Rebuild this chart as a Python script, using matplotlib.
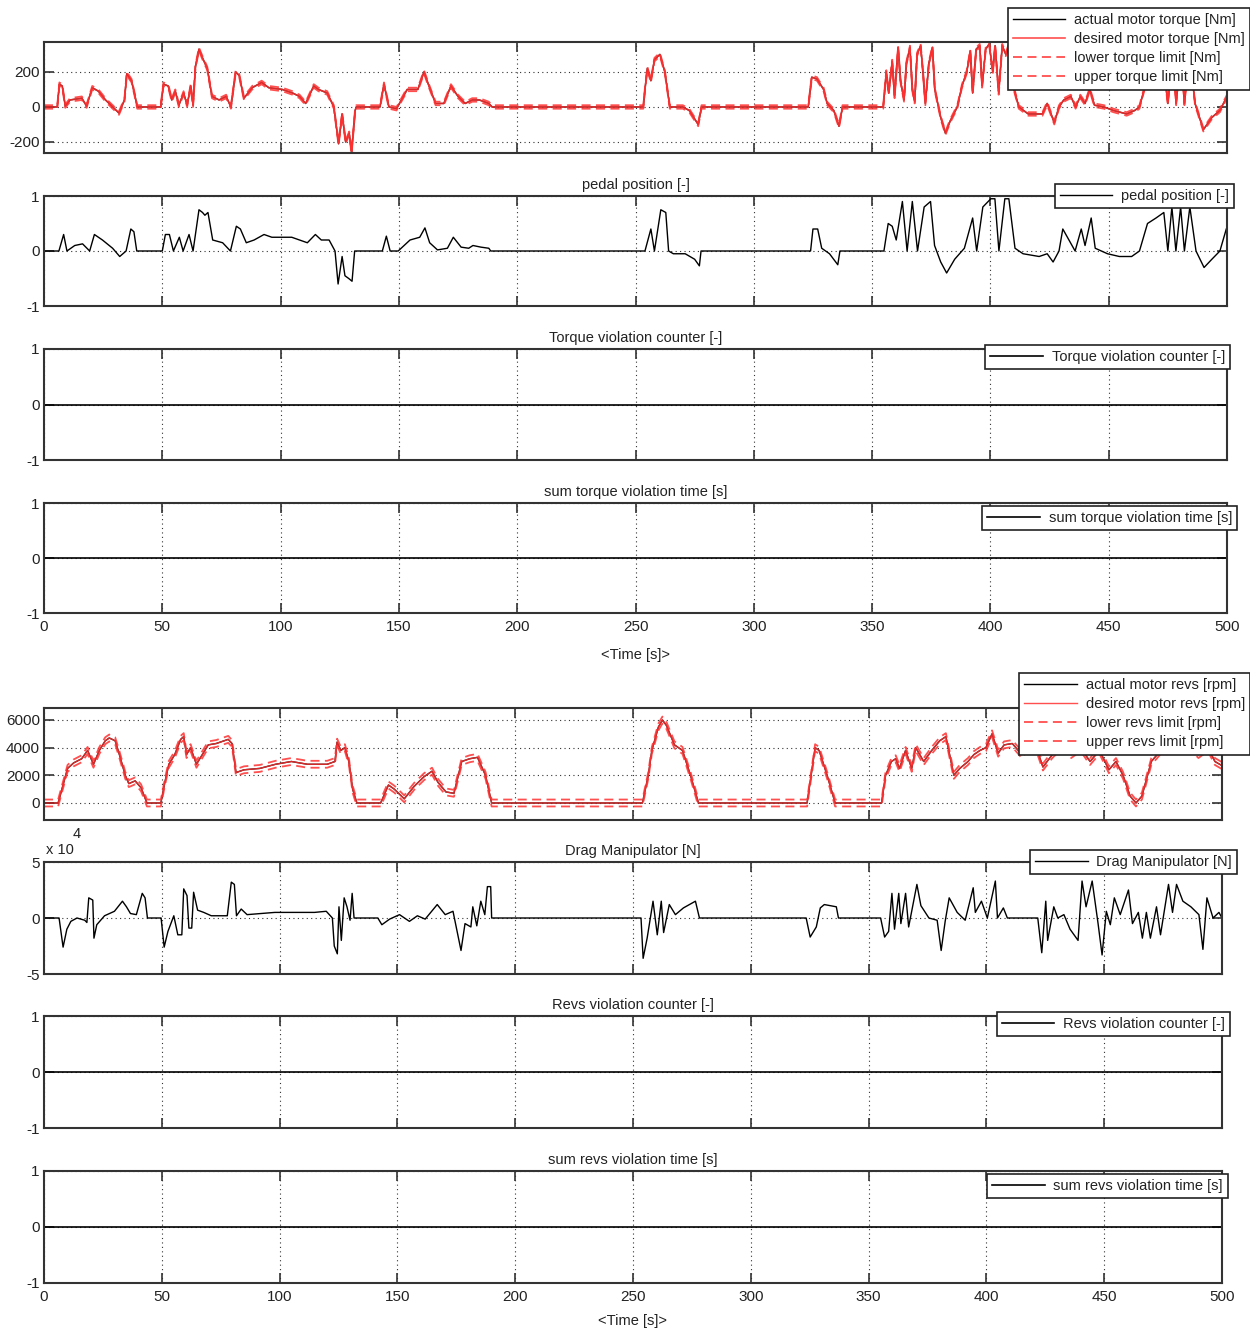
import numpy as np
import matplotlib
matplotlib.use("Agg")
import matplotlib.pyplot as plt

plt.rcParams["font.family"] = ["Liberation Sans Narrow", "Liberation Sans", "DejaVu Sans"]
plt.rcParams["axes.unicode_minus"] = False

# ---------------- data ----------------
# motor torque [Nm] - breakpoints (time [s], value)
torque_t = [0, 5.6, 6.5, 7.7, 9, 11, 16, 18, 20.4, 23, 26, 31.7, 34, 35, 37, 38.5, 39.4,
            49.3, 50.5, 52.5, 54, 55.5, 57, 59, 60.5, 62, 63, 64, 65.5, 67, 69, 71, 74, 77, 79,
            81, 82.5, 84.5, 88, 92, 95, 100.7, 105, 108, 110.6, 114, 116, 119.7, 122.5, 124.5,
            126, 127.5, 129, 130, 131.5, 132, 142, 143.7, 145.8, 149, 153.5, 158, 160.6, 162.7,
            165.5, 169, 172, 175, 178, 181, 184, 188, 189.4, 253.3, 254, 255, 256.5, 258, 260.3,
            262.4, 264.5, 270, 272.7, 276.5, 277.9, 323, 324.5, 326.7, 329.5, 331, 333.8, 336,
            337.5, 354.7, 356, 357, 358.5, 359.5, 361, 362, 363.5, 364.5, 366, 367, 368, 369,
            370.5, 371.5, 372.5, 374, 375.5, 376.5, 379, 381, 383, 386, 388, 390, 391.5, 392.5,
            394, 395.5, 396.5, 398, 399.5, 401, 402, 403.5, 405, 406.5, 408, 410, 412, 416, 422,
            424, 427, 429, 431, 434, 436, 438, 440, 442, 444, 448, 452, 457.6, 461, 463, 466,
            470, 473, 475, 477, 478.5, 480.5, 482, 484, 486.5, 490, 493.6, 497, 500]
torque_desired = [0, 0, 130, 120, 5, 40, 50, 5, 110, 90, 40, -35, 40, 190, 150, 60, 0,
                  0, 130, 120, 40, 90, 10, 80, 10, 120, 10, 230, 330, 280, 220, 60, 40, 60, 0,
                  200, 180, 50, 110, 140, 110, 100, 80, 60, 20, 120, 100, 80, 0, -210,
                  -40, -200, -150, -260, -20, 0, 0, 130, 0, -10, 100, 100, 200, 120,
                  20, 20, 120, 60, 20, 40, 40, 20, 0, 0, 100, 220, 150, 270, 300,
                  200, 0, 0, -20, -100, 0, 0, 170, 160, 100, 20, -20, -110,
                  0, 0, 200, 80, 260, 60, 340, 150, 40, 250, 340, 100, 30, 300,
                  350, 200, 20, 250, 340, 100, -60, -150, -80, 0, 120, 200, 320, 80,
                  330, 350, 120, 330, 360, 200, 350, 80, 350, 300, 360, 100, 0, -40, -40,
                  20, -90, 0, 40, 60, 0, 60, 20, 100, 10, 0, -20, -40, -20, 0, 150,
                  200, 260, 20, 320, 20, 320, 20, 320, 20, -130, -60, -20, 60]
torque_actual = torque_desired
torque_band = 10  # +/- torque limit around desired [Nm]

# pedal position [-]
pedal_t = [0, 6.3, 8.3, 9.7, 13, 16.3, 19.3, 21.3, 24.7, 29, 32, 34.7, 36.7, 38, 39.2, 50,
           51.3, 53, 54.7, 57.2, 58.8, 61.3, 63, 65.5, 67, 68, 69.3, 71.3, 75.5, 78.8, 81.3, 83,
           85.5, 88.8, 93, 96.3, 104.7, 111.3, 114.7, 117.2, 120.5, 123, 124.3, 126, 127.2,
           128.8, 130.2, 131.3, 143, 144.7, 146.3, 149.7, 154.7, 158.8, 161, 163, 166.3, 170.5,
           173, 176.3, 179.5, 181.3, 184.7, 188, 188.8, 254, 256.5, 258, 260.7, 262.8, 264,
           266, 271, 275, 277, 277.7, 324, 325, 327, 328.7, 332, 335.5, 336.4, 355, 356.8,
           358.5, 360.2, 362.8, 364.8, 367, 369.2, 372, 374.7, 376.4, 379, 381.5, 384.9, 389,
           392.5, 394.2, 396.8, 400.2, 401.9, 403.6, 406.1, 407.8, 410.4, 413.8, 420.6, 424,
           426.5, 429, 430.6, 433.2, 435.8, 438.4, 440, 442.6, 444.3, 449.5, 454.5, 459.7,
           463, 466.4, 470, 473.3, 475, 476.7, 478.4, 480.4, 482, 484.3, 486.9, 490.3, 493.6,
           497, 499.7]
pedal = [0, 0, 0.3, 0.0, 0.1, 0.13, 0.0, 0.3, 0.2, 0.05, -0.1, 0.0, 0.4, 0.35, 0.0, 0,
         0.3, 0.3, 0.0, 0.25, 0.0, 0.3, 0.0, 0.75, 0.7, 0.65, 0.7, 0.2, 0.15, 0.0, 0.45, 0.4,
         0.15, 0.2, 0.3, 0.25, 0.25, 0.15, 0.3, 0.2, 0.2, 0.0, -0.6, -0.1, -0.45,
         -0.5, -0.55, 0, 0, 0.27, 0.0, 0.0, 0.2, 0.25, 0.42, 0.15, 0.02, 0.05,
         0.25, 0.07, 0.05, 0.1, 0.07, 0.05, 0, 0, 0.4, 0.0, 0.75, 0.7, 0.0,
         -0.05, -0.05, -0.15, -0.27, 0.0, 0, 0.4, 0.4, 0.05, -0.05, -0.25, 0.0, 0, 0.5,
         0.45, 0.2, 0.9, 0.0, 0.9, 0.0, 0.8, 0.9, 0.1, -0.2, -0.4, -0.15, 0.05,
         0.6, 0.0, 0.8, 0.95, 0.95, 0.0, 0.95, 0.95, 0.05, -0.05, -0.1, -0.05,
         -0.2, 0.0, 0.4, 0.2, 0.0, 0.4, 0.1, 0.6, 0.05, -0.05, -0.1, -0.1,
         0.0, 0.5, 0.6, 0.7, 0.0, 0.8, 0.0, 0.8, 0.0, 0.8, 0.0, -0.3, -0.15,
         0.0, 0.4]

# motor revs [rpm]
revs_t = [0, 6, 8.4, 10, 12.6, 16, 18.5, 21, 23.5, 26, 27.7, 30.2, 32, 34.5, 36, 38.7, 41.2,
          43.7, 49.6, 51.3, 53, 55.5, 58, 59.3, 60.5, 62.2, 64.7, 67.2, 69.7, 73.1, 78.2, 79.8,
          81.5, 84.9, 91.6, 98.3, 105, 111.8, 120.2, 123.5, 124.4, 126, 127.7, 129.4, 131,
          132.8, 142.9, 146.2, 148.7, 152.9, 157.1, 161.3, 164.7, 167.2, 170.6, 174, 177.3,
          180.7, 184, 187.4, 190, 254, 256.5, 258, 260.8, 262.5, 264.2, 267.6, 271, 274.4,
          277.8, 323.9, 327.3, 329, 332.4, 335.8, 355.5, 357.2, 359.7, 361.5, 363.1, 365.7,
          368.3, 370, 373.4, 376.8, 380.2, 382.8, 386.2, 388.7, 392.2, 394.7, 397.3, 399.8,
          402.4, 405, 407.5, 411, 415, 420, 424, 428, 432, 436, 440, 444, 448, 452, 455, 458,
          461, 463.5, 466, 470, 474, 478, 482, 486, 490, 494, 497, 500]
revs_desired = [0, 0, 1500, 2500, 2900, 3200, 3800, 2800, 3800, 4500, 4700, 4500, 3500, 2000,
                1400, 1600, 1100, 0, 0, 1500, 2800, 3500, 4600, 4800, 3500, 4000, 2800, 3500,
                4200, 4300, 4600, 4300, 2200, 2400, 2500, 2800, 3000, 2800, 2800, 3000, 4400,
                3800, 4000, 3000, 1000, 0, 0, 1300, 1000, 300, 1200, 1900, 2300, 1500, 800, 700,
                3000, 3200, 3300, 2000, 0, 0, 2000, 3800, 5500, 6000, 5600, 4200, 3800, 2000,
                0, 0, 4000, 3800, 2000, 0, 0, 2000, 3000, 3200, 2500, 3800,
                2500, 4000, 3000, 3800, 4500, 4800, 2000, 2500, 3000, 3500, 3800, 4000,
                5000, 3600, 4200, 4300, 3500, 4600, 2600, 3500, 4200, 3500, 4000, 3000, 3800,
                2400, 3000, 2000, 500, 0, 500, 3000, 3800, 4500, 3800, 4200, 3500, 4000, 3000,
                2700]
revs_actual = revs_desired
revs_band = 250  # +/- revs limit around desired [rpm]

# drag manipulator [x 10^4 N]
drag_t = [0, 6.4, 8.1, 9.7, 11.4, 14, 17.3, 18.2, 19, 20.7, 21.2, 22.4, 25.7, 29.9, 33.3, 35,
          36.7, 39.2, 41.7, 42.9, 43.9, 49.7, 51, 52.6, 55.1, 56.8, 58.5, 59.3, 60.7, 61.5,
          62.7, 63.5, 65.2, 67.8, 71, 77.8, 79.5, 80.8, 81.7, 83.7, 86.2, 98, 111.4, 114.8,
          119.8, 122.4, 123.2, 124.5, 125.2, 126.2, 127.4, 128.6, 129.9, 130.8, 131.6, 141.7,
          143.4, 146.7, 150.9, 155.1, 158.5, 161.8, 166.9, 170.3, 173.6, 177, 178.7, 181.2,
          182, 183.7, 185.4, 187.1, 188.2, 189.6, 190, 253.4, 254.3, 256, 258.5, 260.3, 262,
          263, 265.4, 268, 271.4, 276.5, 278.2, 323.5, 325.2, 327.8, 329.5, 331.2, 336.3,
          337.2, 355.1, 356.8, 358.5, 359.9, 361, 362.8, 363.7, 365.7, 367, 370.5, 372.2,
          375.6, 379.1, 380.8, 382.5, 384.2, 387.6, 391, 394.4, 395.3, 397.9, 400.4, 403.8,
          404.7, 407.2, 408.9, 421.8, 423.5, 425.2, 426, 428.6, 430.3, 432.9, 435.5, 438.9,
          440.6, 442.3, 444.9, 447.4, 449.1, 450.9, 452.6, 454.3, 456.8, 460.3, 462, 464.5,
          466.2, 467.9, 469.6, 472.2, 473.9, 477.3, 479, 480.7, 483.4, 486.8, 490.2, 491.9,
          493.6, 496.2, 498.7, 500]
drag = [0, 0, -2.6, -1.0, -0.3, 0, -0.2, -0.4, 1.8, 1.6, -1.8, -0.6, 0.2, 0.6, 1.5, 1.0,
        0.4, 0.3, 2.2, 1.8, 0, 0, -2.6, -1.2, 0.2, -1.5, -1.5, 2.6, 2.0, -0.9,
        -0.9, 2.3, 0.7, 0.5, 0.2, 0.2, 3.2, 3.0, 0.2, 0.8, 0.3, 0.5, 0.5, 0.5,
        0.6, 0.0, -2.5, -3.2, 1.0, -2.0, 1.8, 1.0, -0.2, 2.2, 0.0, 0,
        -0.6, -0.1, 0.3, -0.3, 0.2, -0.1, 1.2, 0.3, 0.6, -2.9, -0.5, -0.8,
        1.0, -0.7, 1.5, 0.3, 2.8, 2.8, 0, 0, -3.6, -1.8, 1.5, -1.5, 1.5,
        -1.3, 1.2, 0.3, 0.9, 1.5, 0, 0, -1.7, -0.8, 0.9, 1.2, 1.0,
        0.0, 0, -1.7, -1.2, 2.2, -1.0, 2.2, -0.5, 2.2, -0.8, 3.0, 1.1,
        0.0, -0.2, -2.9, -0.3, 1.8, 0.5, -0.2, 2.7, 0.5, 1.5, 0.0, 3.3,
        0.0, 0.9, 0.0, 0.0, -3.1, 1.5, -2.0, 1.0, 0.0, 0.3, -1.0, -2.0,
        3.3, 1.0, 3.3, -0.5, -3.3, 0.6, -0.6, 1.8, 0.3, 2.5, -0.5, 0.5,
        -1.8, 0.5, -1.8, 1.0, -1.5, 3.0, 0.5, 3.0, 1.5, 1.0, 0.3, -2.8,
        1.8, 0.0, 0.5, 0.0]

# violation counters / times (all zero)
viol_t = [0, 500]
torque_viol_count = [0, 0]
torque_viol_time = [0, 0]
revs_viol_count = [0, 0]
revs_viol_time = [0, 0]

time_ticks = [0, 50, 100, 150, 200, 250, 300, 350, 400, 450, 500]

# ---------------- figure ----------------
W, H = 1250, 1330
fig = plt.figure(figsize=(W / 100, H / 100), dpi=100)

TXT = "#222222"
RED = "#ff3030"
FS = 10.5


def box(x0, y0, x1, y1):
    return [x0 / W, 1 - y1 / H, (x1 - x0) / W, (y1 - y0) / H]


def style(ax, yticks, ylim, xlabels=False):
    ax.set_xlim(0, 500)
    ax.set_ylim(*ylim)
    ax.set_xticks(time_ticks)
    ax.set_yticks(yticks)
    ax.grid(True, color="#333333", linestyle=(0, (1, 3)), linewidth=0.8)
    ax.tick_params(direction="in", top=True, right=True, length=7, width=1.2,
                   color="#333333", labelsize=FS + 0.5, labelcolor=TXT, pad=3)
    if not xlabels:
        ax.tick_params(labelbottom=False)
    else:
        ax.tick_params(axis="x", pad=5)
    for sp in ax.spines.values():
        sp.set_linewidth(1.5)
        sp.set_color("#333333")


def legend(ax, corner_px, **kw):
    x, y = corner_px
    leg = ax.legend(loc="upper right", bbox_to_anchor=(x / W, 1 - y / H),
                    bbox_transform=fig.transFigure, fontsize=FS, fancybox=False,
                    framealpha=1, edgecolor="#222222", handlelength=3.6,
                    handletextpad=0.6, borderpad=0.35, labelspacing=0.35,
                    borderaxespad=0, **kw)
    leg.get_frame().set_linewidth(1.2)
    for t in leg.get_texts():
        t.set_color(TXT)
    return leg


def title(ax, s):
    ax.set_title(s, fontsize=FS, color=TXT, pad=5)


tq_lo = np.array(torque_desired) - torque_band
tq_hi = np.array(torque_desired) + torque_band
rv_lo = np.array(revs_desired) - revs_band
rv_hi = np.array(revs_desired) + revs_band

# --- torque ---
ax1 = fig.add_axes(box(44, 42, 1227, 153))
ax1.plot(torque_t, torque_actual, color="black", lw=1.0, label="actual motor torque [Nm]")
ax1.plot(torque_t, torque_desired, color=RED, lw=1.2, alpha=0.85, label="desired motor torque [Nm]")
ax1.plot(torque_t, tq_lo, color=RED, lw=1.3, alpha=0.85, dashes=(5, 3), label="lower torque limit [Nm]")
ax1.plot(torque_t, tq_hi, color=RED, lw=1.3, alpha=0.85, dashes=(5, 3), label="upper torque limit [Nm]")
style(ax1, [-200, 0, 200], (-263, 371))
legend(ax1, (1250, 8))

# --- pedal ---
ax2 = fig.add_axes(box(44, 196, 1227, 306))
ax2.plot(pedal_t, pedal, color="black", lw=1.0, label="pedal position [-]")
style(ax2, [-1, 0, 1], (-1, 1))
title(ax2, "pedal position [-]")
legend(ax2, (1234, 184))

# --- torque violation counter ---
ax3 = fig.add_axes(box(44, 349, 1227, 460))
ax3.plot(viol_t, torque_viol_count, color="black", lw=1.2, label="Torque violation counter [-]")
style(ax3, [-1, 0, 1], (-1, 1))
title(ax3, "Torque violation counter [-]")
legend(ax3, (1230, 345))

# --- sum torque violation time ---
ax4 = fig.add_axes(box(44, 503, 1227, 613))
ax4.plot(viol_t, torque_viol_time, color="black", lw=1.2, label="sum torque violation time [s]")
style(ax4, [-1, 0, 1], (-1, 1), xlabels=True)
title(ax4, "sum torque violation time [s]")
ax4.set_xlabel("<Time [s]>", fontsize=FS, color=TXT, labelpad=10)
legend(ax4, (1237, 506))

# --- revs ---
ax5 = fig.add_axes(box(44, 708, 1222, 820))
ax5.plot(revs_t, revs_actual, color="black", lw=1.0, label="actual motor revs [rpm]")
ax5.plot(revs_t, revs_desired, color=RED, lw=1.0, alpha=0.85, label="desired motor revs [rpm]")
ax5.plot(revs_t, rv_lo, color=RED, lw=1.3, alpha=0.85, dashes=(5, 3), label="lower revs limit [rpm]")
ax5.plot(revs_t, rv_hi, color=RED, lw=1.3, alpha=0.85, dashes=(5, 3), label="upper revs limit [rpm]")
style(ax5, [0, 2000, 4000, 6000], (-1229, 6867))
legend(ax5, (1250, 673))

# --- drag manipulator ---
ax6 = fig.add_axes(box(44, 862, 1222, 974))
ax6.plot(drag_t, drag, color="black", lw=1.0, label="Drag Manipulator [N]")
style(ax6, [-5, 0, 5], (-5, 5))
title(ax6, "Drag Manipulator [N]")
legend(ax6, (1237, 850))
fig.text(46 / W, 1 - 850 / H, "x 10", fontsize=FS, color=TXT, va="center")
fig.text(73 / W, 1 - 834 / H, "4", fontsize=FS, color=TXT, va="center")

# --- revs violation counter ---
ax7 = fig.add_axes(box(44, 1016, 1222, 1128))
ax7.plot(viol_t, revs_viol_count, color="black", lw=1.2, label="Revs violation counter [-]")
style(ax7, [-1, 0, 1], (-1, 1))
title(ax7, "Revs violation counter [-]")
legend(ax7, (1230, 1012))

# --- sum revs violation time ---
ax8 = fig.add_axes(box(44, 1171, 1222, 1283))
ax8.plot(viol_t, revs_viol_time, color="black", lw=1.2, label="sum revs violation time [s]")
style(ax8, [-1, 0, 1], (-1, 1), xlabels=True)
title(ax8, "sum revs violation time [s]")
ax8.set_xlabel("<Time [s]>", fontsize=FS, color=TXT, labelpad=7)
legend(ax8, (1228, 1174))

fig.savefig("out.png", dpi=100)
